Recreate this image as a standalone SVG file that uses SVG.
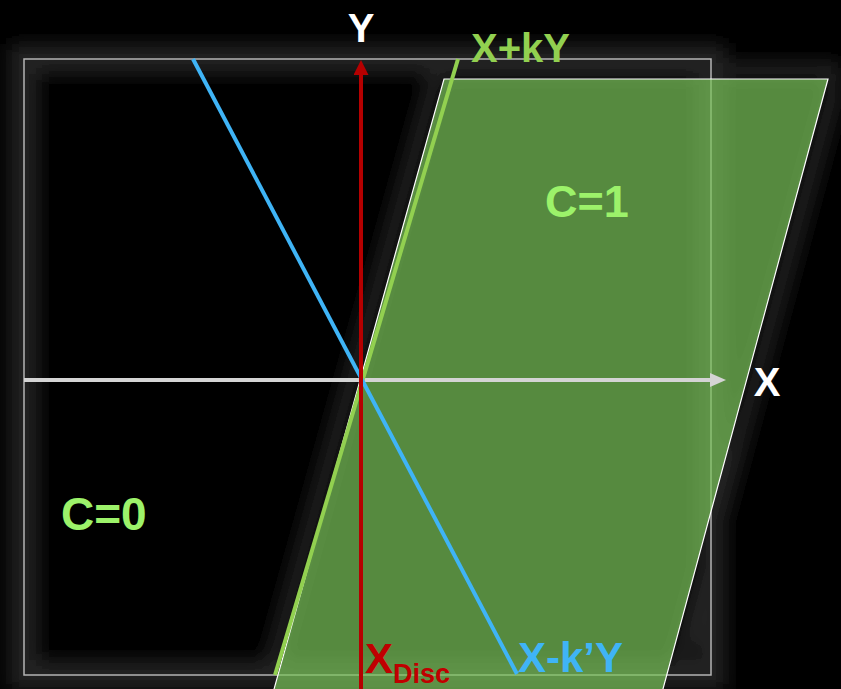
<svg xmlns="http://www.w3.org/2000/svg" width="841" height="689" viewBox="0 0 841 689">
  <defs>
    <style>
      .lbl { font-family: "Liberation Sans", Arial, sans-serif; font-weight: bold; }
    </style>
    <filter id="glow" x="-20%" y="-20%" width="140%" height="140%">
      <feGaussianBlur stdDeviation="9"/>
    </filter>
    <mask id="outsidePara" maskUnits="userSpaceOnUse" x="0" y="0" width="841" height="689">
      <rect x="0" y="0" width="841" height="689" fill="#fff"/>
      <polygon points="444,79 828,79 660,700 271,700" fill="#000"/>
    </mask>
    <marker id="arrX" markerUnits="userSpaceOnUse" markerWidth="16" markerHeight="14" refX="0" refY="7" orient="auto">
      <polygon points="0,0 16,7 0,14" fill="#d4d4d4"/>
    </marker>
    <marker id="arrY" markerUnits="userSpaceOnUse" markerWidth="16" markerHeight="15" refX="0" refY="7.5" orient="auto">
      <polygon points="0,0 15,7.5 0,15" fill="#b50000"/>
    </marker>
  </defs>

  <rect x="0" y="0" width="841" height="689" fill="#000"/>

  <g id="glows" filter="url(#glow)">
    <rect x="24" y="59" width="687" height="616" fill="none" stroke="#232323" stroke-width="30"/>
    <polygon points="444,79 828,79 660,700 271,700" fill="none" stroke="#232323" stroke-width="34" mask="url(#outsidePara)"/>
  </g>

  <g id="frame">
    <rect x="24" y="59" width="687" height="616" fill="none" stroke="#b4b4b4" stroke-width="1.5"/>
  </g>

  <g id="region-c1">
    <polygon points="444,79 828,79 660,700 271,700" fill="#7bc55a" fill-opacity="0.7" stroke="#ffffff" stroke-width="1.2"/>
  </g>

  <g id="connectors">
    <line id="x-axis" x1="24" y1="380" x2="710" y2="380" stroke="#d4d4d4" stroke-width="4" marker-end="url(#arrX)"/>
    <line id="line-xky" x1="458" y1="59" x2="275" y2="675" stroke="#92d050" stroke-width="4"/>
    <line id="line-xkpy" x1="193" y1="59" x2="517" y2="674" stroke="#3fb4f6" stroke-width="4"/>
    <line id="y-axis" x1="361" y1="689" x2="361" y2="75" stroke="#b50000" stroke-width="4" marker-end="url(#arrY)"/>
  </g>

  <g id="labels">
    <text id="lbl-y" class="lbl" x="361" y="42" font-size="40" fill="#ffffff" text-anchor="middle">Y</text>
    <text id="lbl-x" class="lbl" x="767" y="396" font-size="40" fill="#ffffff" text-anchor="middle">X</text>
    <text id="lbl-xky" class="lbl" x="471" y="62" font-size="40" fill="#92d050">X+kY</text>
    <text id="lbl-c1" class="lbl" x="545" y="217" font-size="45" fill="#9cf26a">C=1</text>
    <text id="lbl-c0" class="lbl" x="61" y="530" font-size="46" fill="#9cf26a">C=0</text>
    <text id="lbl-xdisc" class="lbl" x="365" y="673" font-size="42" fill="#c00000">X<tspan font-size="27" y="683">Disc</tspan></text>
    <text id="lbl-xkpy" class="lbl" x="518" y="672" font-size="42" fill="#3fb4f6">X-k’Y</text>
  </g>
</svg>
